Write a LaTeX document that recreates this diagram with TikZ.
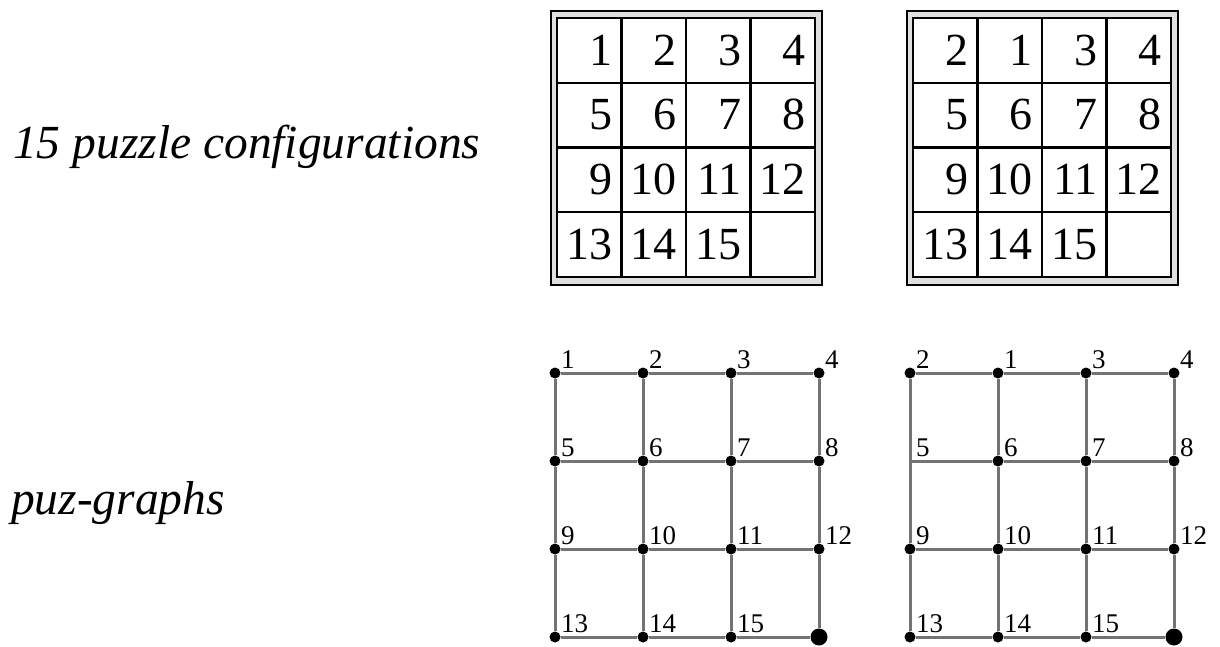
\documentclass[tikz,border=0pt]{standalone}
\usepackage{fontspec}
\setmainfont{Liberation Serif}
\tikzset{
  frame/.style={line width=2.4pt, black},
  gridline/.style={line width=2.4pt, black},
  num/.style={anchor=base east, inner sep=0pt, font=\fontsize{46}{46}\selectfont},
  edge/.style={line width=3pt, black!55},
  dot/.style={circle, fill=black, inner sep=0pt, minimum size=11pt},
  nodot/.style={circle, inner sep=0pt, minimum size=0pt},
  bigdot/.style={circle, fill=black, inner sep=0pt, minimum size=17pt},
  lab/.style={anchor=base west, inner sep=0pt, font=\fontsize{27}{27}\selectfont},
  side/.style={anchor=base west, inner sep=0pt, font=\fontsize{47.5}{47.5}\selectfont\itshape},
}
\newcommand\puzzlebox[3]{%
  \fill[gray!25] (551+#1,11) rectangle (822+#1,285);
  \draw[frame] (551+#1,11) rectangle (822+#1,285);
  \fill[white] (557+#1,18) rectangle (815+#1,277);
  \draw[frame] (557+#1,18) rectangle (815+#1,277);
  \foreach \k in {1,2,3}{%
    \draw[gridline] ({557+#1+64.5*\k},18) -- ({557+#1+64.5*\k},277);
    \draw[gridline] (557+#1,{18+64.75*\k}) -- (815+#1,{18+64.75*\k});
  }
  \foreach \v [count=\i from 0] in {#3}{%
    \pgfmathtruncatemacro\pcol{mod(\i,4)}%
    \pgfmathtruncatemacro\prow{\i/4}%
    \node[num] (#2n\i) at ({557+#1+64.5*(\pcol+1)-9},{18+64.75*\prow+47}) {\v};
  }
}
\newcommand\puzgraph[3]{%
  \foreach \v/\s [count=\i from 0] in {#3}{%
    \pgfmathtruncatemacro\pcol{mod(\i,4)}%
    \pgfmathtruncatemacro\prow{\i/4}%
    \node[\s] (#2r\prow c\pcol) at ({555+#1+88*\pcol},{373+88*\prow}) {};
    \node[lab] (#2L\i) at ({561+#1+88*\pcol},{368+88*\prow}) {\v};
  }
  \node[bigdot] (#2r3c3) at ({819+#1},637) {};
  \foreach \a in {0,...,3}{%
    \foreach \b in {0,1,2}{%
      \pgfmathtruncatemacro\bb{\b+1}%
      \draw[edge] (#2r\a c\b) -- (#2r\a c\bb);
      \draw[edge] (#2r\b c\a) -- (#2r\bb c\a);
    }
  }
}
\begin{document}
\begin{tikzpicture}[x=1pt,y=-1pt]
\useasboundingbox (0,0) rectangle (1220,646);
\node[side] (t1) at (13,158) {15 puzzle configurations};
\node[side] (t2) at (11,514) {puz-graphs};
\puzzlebox{0}{P}{1,2,3,4,5,6,7,8,9,10,11,12,13,14,15}
\puzzlebox{356}{Q}{2,1,3,4,5,6,7,8,9,10,11,12,13,14,15}
\puzgraph{0}{G}{1/dot,2/dot,3/dot,4/dot,5/dot,6/dot,7/dot,8/dot,9/dot,10/dot,11/dot,12/dot,13/dot,14/dot,15/dot}
\puzgraph{355}{H}{2/dot,1/dot,3/dot,4/dot,5/nodot,6/dot,7/dot,8/dot,9/dot,10/dot,11/dot,12/dot,13/dot,14/dot,15/dot}
\end{tikzpicture}
\end{document}
